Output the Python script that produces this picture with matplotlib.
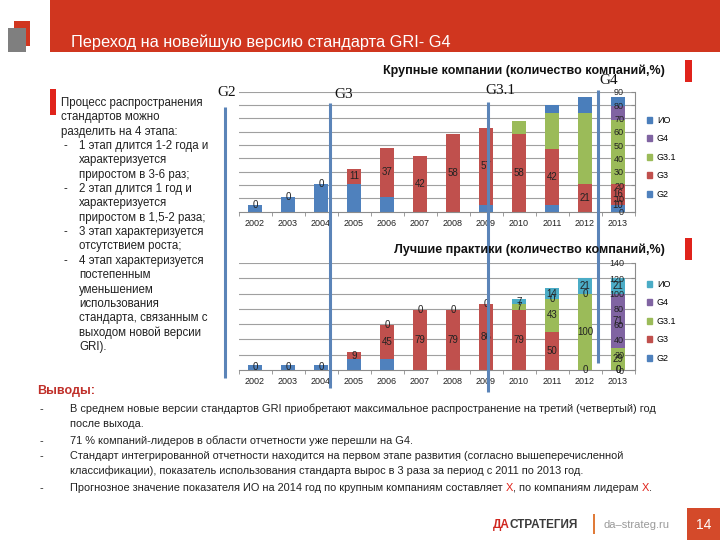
import matplotlib
matplotlib.use('Agg')
import matplotlib.pyplot as plt
from matplotlib.patches import Patch, Rectangle
from matplotlib.lines import Line2D
import numpy as np

plt.rcParams['font.family'] = ['Liberation Sans', 'DejaVu Sans']

W, H = 720, 540

years = ['2002', '2003', '2004', '2005', '2006', '2007',
         '2008', '2009', '2010', '2011', '2012', '2013']
series = ['G2', 'G3', 'G3.1', 'G4', 'ИО']

# Крупные компании
large_g2 = [5, 11, 21, 21, 11, 0, 0, 5, 0, 5, 0, 5]
large_g3 = [0, 0, 0, 11, 37, 42, 58, 58, 58, 42, 21, 16]
large_g31 = [0, 0, 0, 0, 0, 0, 0, 0, 10, 27, 53, 48]
large_g4 = [0, 0, 0, 0, 0, 0, 0, 0, 0, 0, 0, 10]
large_io = [0, 0, 0, 0, 0, 0, 0, 0, 0, 6, 12, 7]
large_lab_g2 = ['0', '0', '0', '', '', '', '', '', '', '', '', '10']
large_lab_g3 = ['', '', '', '11', '37', '42', '58', '57', '58', '42', '21', '16']

# Лучшие практики
best_g2 = [7, 7, 7, 14, 14, 0, 0, 0, 0, 0, 0, 0]
best_g3 = [0, 0, 0, 9, 45, 79, 79, 86, 79, 50, 0, 0]
best_g31 = [0, 0, 0, 0, 0, 0, 0, 0, 7, 43, 100, 29]
best_g4 = [0, 0, 0, 0, 0, 0, 0, 0, 0, 0, 0, 71]
best_io = [0, 0, 0, 0, 0, 0, 0, 0, 7, 14, 21, 21]
best_lab_g2 = ['0', '0', '0', '', '', '', '', '', '', '', '', '0']
best_lab_g3 = ['', '', '', '9', '45', '79', '79', '86', '79', '50', '0', '0']
best_lab_g31 = ['', '', '', '', '0', '0', '0', '0', '7', '43', '100', '29']
best_lab_g4 = ['', '', '', '', '', '', '', '', '', '0', '0', '71']
best_lab_io = ['', '', '', '', '', '', '', '', '7', '14', '21', '21']

C_G2 = '#4F81BD'
C_G3 = '#C0504D'
C_G31 = '#9BBB59'
C_G4 = '#8064A2'
C_IO_TOP = '#4A7EBB'
C_IO_BOT = '#4BACC6'
RED = '#D0361F'
TXT = '#222222'


def px_axes(fig, x0, y0, x1, y1):
    return fig.add_axes([x0 / W, 1 - y1 / H, (x1 - x0) / W, (y1 - y0) / H])


def stacked(ax, stacks, colors, labels, top_lab, ymax, ystep):
    x = np.arange(len(years))
    bottom = np.zeros(len(years))
    for vals, col, labs, at_top in zip(stacks, colors, labels, top_lab):
        vals = np.asarray(vals, float)
        ax.bar(x, vals, width=0.43, bottom=bottom, color=col, zorder=2)
        if labs is not None:
            for j, t in enumerate(labs):
                if not t:
                    continue
                y = bottom[j] + (vals[j] if at_top else vals[j] / 2)
                ax.text(x[j], y, t, ha='center', va='center', fontsize=7,
                        color=TXT, zorder=4)
        bottom += vals
    ax.set_xlim(-0.5, len(years) - 0.5)
    ax.set_ylim(0, ymax)
    yt = np.arange(0, ymax + 1, ystep)
    ax.set_yticks(yt)
    for v in yt[1:]:
        ax.axhline(v, color='#a0a0a0', lw=0.8, zorder=0.5)
    ax.set_xticks(x)
    ax.set_xticklabels(years)
    ax.set_xticks(np.arange(-0.5, len(years), 1), minor=True)
    ax.set_axisbelow(False)
    for s in ['top', 'left']:
        ax.spines[s].set_visible(False)
    for s in ['right', 'bottom']:
        ax.spines[s].set_color('#8c8c8c')
        ax.spines[s].set_linewidth(0.8)
    ax.yaxis.tick_right()
    ax.tick_params(axis='y', direction='in', length=3, pad=-7.5,
                   labelsize=6.5, colors='#8c8c8c', labelcolor=TXT)
    for t in ax.yaxis.get_major_ticks():
        t.label2.set_horizontalalignment('right')
    ax.tick_params(axis='x', which='major', length=0, pad=5, labelsize=6.5,
                   labelcolor=TXT)
    ax.tick_params(axis='x', which='minor', length=3, direction='out',
                   color='#8c8c8c')
    ax.set_facecolor('none')


fig = plt.figure(figsize=(7.2, 5.4), dpi=100)

ax1 = px_axes(fig, 238.5, 91.7, 634.5, 211.7)
stacked(ax1,
        [large_g2, large_g3, large_g31, large_g4, large_io],
        [C_G2, C_G3, C_G31, C_G4, C_IO_TOP],
        [large_lab_g2, large_lab_g3, None, None, None],
        [True, False, False, False, False], 90, 10)

ax2 = px_axes(fig, 238.5, 263, 634.5, 370)
stacked(ax2,
        [best_g2, best_g3, best_g31, best_g4, best_io],
        [C_G2, C_G3, C_G31, C_G4, C_IO_BOT],
        [best_lab_g2, best_lab_g3, best_lab_g31, best_lab_g4, best_lab_io],
        [False] * 5, 140, 20)

for ax, cols, top in [(ax1, [C_G2, C_G3, C_G31, C_G4, C_IO_TOP], 116),
                      (ax2, [C_G2, C_G3, C_G31, C_G4, C_IO_BOT], 280)]:
    handles = [Patch(color=c) for c in cols][::-1]
    ax.legend(handles, series[::-1], loc='upper left',
              bbox_to_anchor=(647 / W, 1 - top / H),
              bbox_transform=fig.transFigure, frameon=False, fontsize=6.5,
              handlelength=0.6, handleheight=0.6, handletextpad=0.5,
              labelspacing=1.05, borderpad=0, borderaxespad=0)

# overlay in pixel coordinates
ov = fig.add_axes([0, 0, 1, 1], zorder=10)
ov.set_xlim(0, W)
ov.set_ylim(H, 0)
ov.axis('off')
ov.patch.set_alpha(0)

# header
ov.add_patch(Rectangle((50, 0), W - 50, 52, color=RED, lw=0))
ov.add_patch(Rectangle((14, 21), 16, 25, color=RED, lw=0))
ov.add_patch(Rectangle((8, 28), 18, 24, color='#7f7f7f', lw=0))
ov.text(71, 42, 'Переход на новейшую версию стандарта GRI- G4', color='white',
        fontsize=11.8, va='center', ha='left')

# chart titles
ov.text(524, 71, 'Крупные компании (количество компаний,%)', fontsize=9,
        fontweight='bold', ha='center', va='center', color='#111111')
ov.text(529, 250, 'Лучшие практики (количество компаний,%)', fontsize=9,
        fontweight='bold', ha='center', va='center', color='#111111')
ov.add_patch(Rectangle((685, 60), 7, 22, color='#E0231B', lw=0))
ov.add_patch(Rectangle((685, 238), 7, 22, color='#E0231B', lw=0))

# standard version markers
for gx, gy, g in [(227, 92, 'G2'), (344, 94, 'G3'), (500, 91, 'G3.1'), (609, 80, 'G4')]:
    ov.text(gx, gy, g, family=['Liberation Serif', 'DejaVu Serif'], fontsize=11,
            ha='center', va='center', color='#111111')
for lx, y0, y1 in [(225, 107, 378), (330, 103, 388), (488, 102, 392), (598, 90, 363)]:
    ov.add_line(Line2D([lx, lx], [y0, y1], color='#5B84B8', lw=2.2,
                       solid_capstyle='butt'))

# left text block
ov.add_patch(Rectangle((50, 89), 6, 26, color='#E0231B', lw=0))
left_lines = [
    ('', 'Процесс распространения'),
    ('', 'стандартов можно'),
    ('', 'разделить на 4 этапа:'),
    ('-', '1 этап длится 1-2 года и'),
    ('', 'характеризуется'),
    ('', 'приростом в 3-6 раз;'),
    ('-', '2 этап длится 1 год и'),
    ('', 'характеризуется'),
    ('', 'приростом в 1,5-2 раза;'),
    ('-', '3 этап характеризуется'),
    ('', 'отсутствием роста;'),
    ('-', '4 этап характеризуется'),
    ('', 'постепенным'),
    ('', 'уменьшением'),
    ('', 'использования'),
    ('', 'стандарта, связанным с'),
    ('', 'выходом новой версии'),
    ('', 'GRI).'),
]
for i, (dash, line) in enumerate(left_lines):
    y = 103 + i * 14.35
    x = 61 if i < 3 else 79
    if dash:
        ov.text(63, y, dash, fontsize=8.3, va='center', color=TXT)
    ov.text(x, y, line, fontsize=8.3, va='center', color=TXT)

# conclusions
ov.text(37, 391, 'Выводы:', fontsize=9, fontweight='bold', color='#C0302A',
        va='center')
bullets = [
    ('-', [('В среднем новые версии стандартов GRI приобретают максимальное '
            'распространение на третий (четвертый) год', TXT)]),
    ('', [('после выхода.', TXT)]),
    ('-', [('71 % компаний-лидеров в области отчетности уже перешли на G4.', TXT)]),
    ('-', [('Стандарт интегрированной отчетности находится на первом этапе '
            'развития (согласно вышеперечисленной', TXT)]),
    ('', [('классификации), показатель использования стандарта вырос в 3 раза '
           'за период с 2011 по 2013 год.', TXT)]),
    ('-', [('Прогнозное значение показателя ИО на 2014 год по крупным компаниям '
            'составляет ', TXT), ('X', '#E0231B'),
           (', по компаниям лидерам ', TXT), ('X', '#E0231B'), ('.', TXT)]),
]
b_y = [409, 424, 441, 456, 471, 488]
for (dash, parts), y in zip(bullets, b_y):
    if dash:
        ov.text(40, y, dash, fontsize=7.9, va='center', color=TXT)
    t = ov.text(70, y, parts[0][0], fontsize=7.9, va='center', color=parts[0][1])
    for s, c in parts[1:]:
        t = ov.annotate(s, xy=(1, 0), xycoords=t, va='bottom', ha='left',
                        fontsize=7.9, color=c)

# footer
t = ov.text(493, 525, 'ДА', fontsize=8.5, fontweight='bold', color='#D0261E',
            va='center')
ov.annotate('СТРАТЕГИЯ', xy=(1, 0), xycoords=t, va='bottom', ha='left',
            fontsize=8.5, fontweight='bold', color='#3a3a3a')
ov.add_patch(Rectangle((593, 514), 2, 20, color='#E07B39', lw=0))
ov.text(603, 525, 'da–strateg.ru', fontsize=8, color='#9a9a9a', va='center')
ov.add_patch(Rectangle((687, 508), 33, 32, color='#D44A2A', lw=0))
ov.text(704, 525, '14', fontsize=10, color='white', ha='center', va='center')

fig.savefig('out.png', dpi=100)
